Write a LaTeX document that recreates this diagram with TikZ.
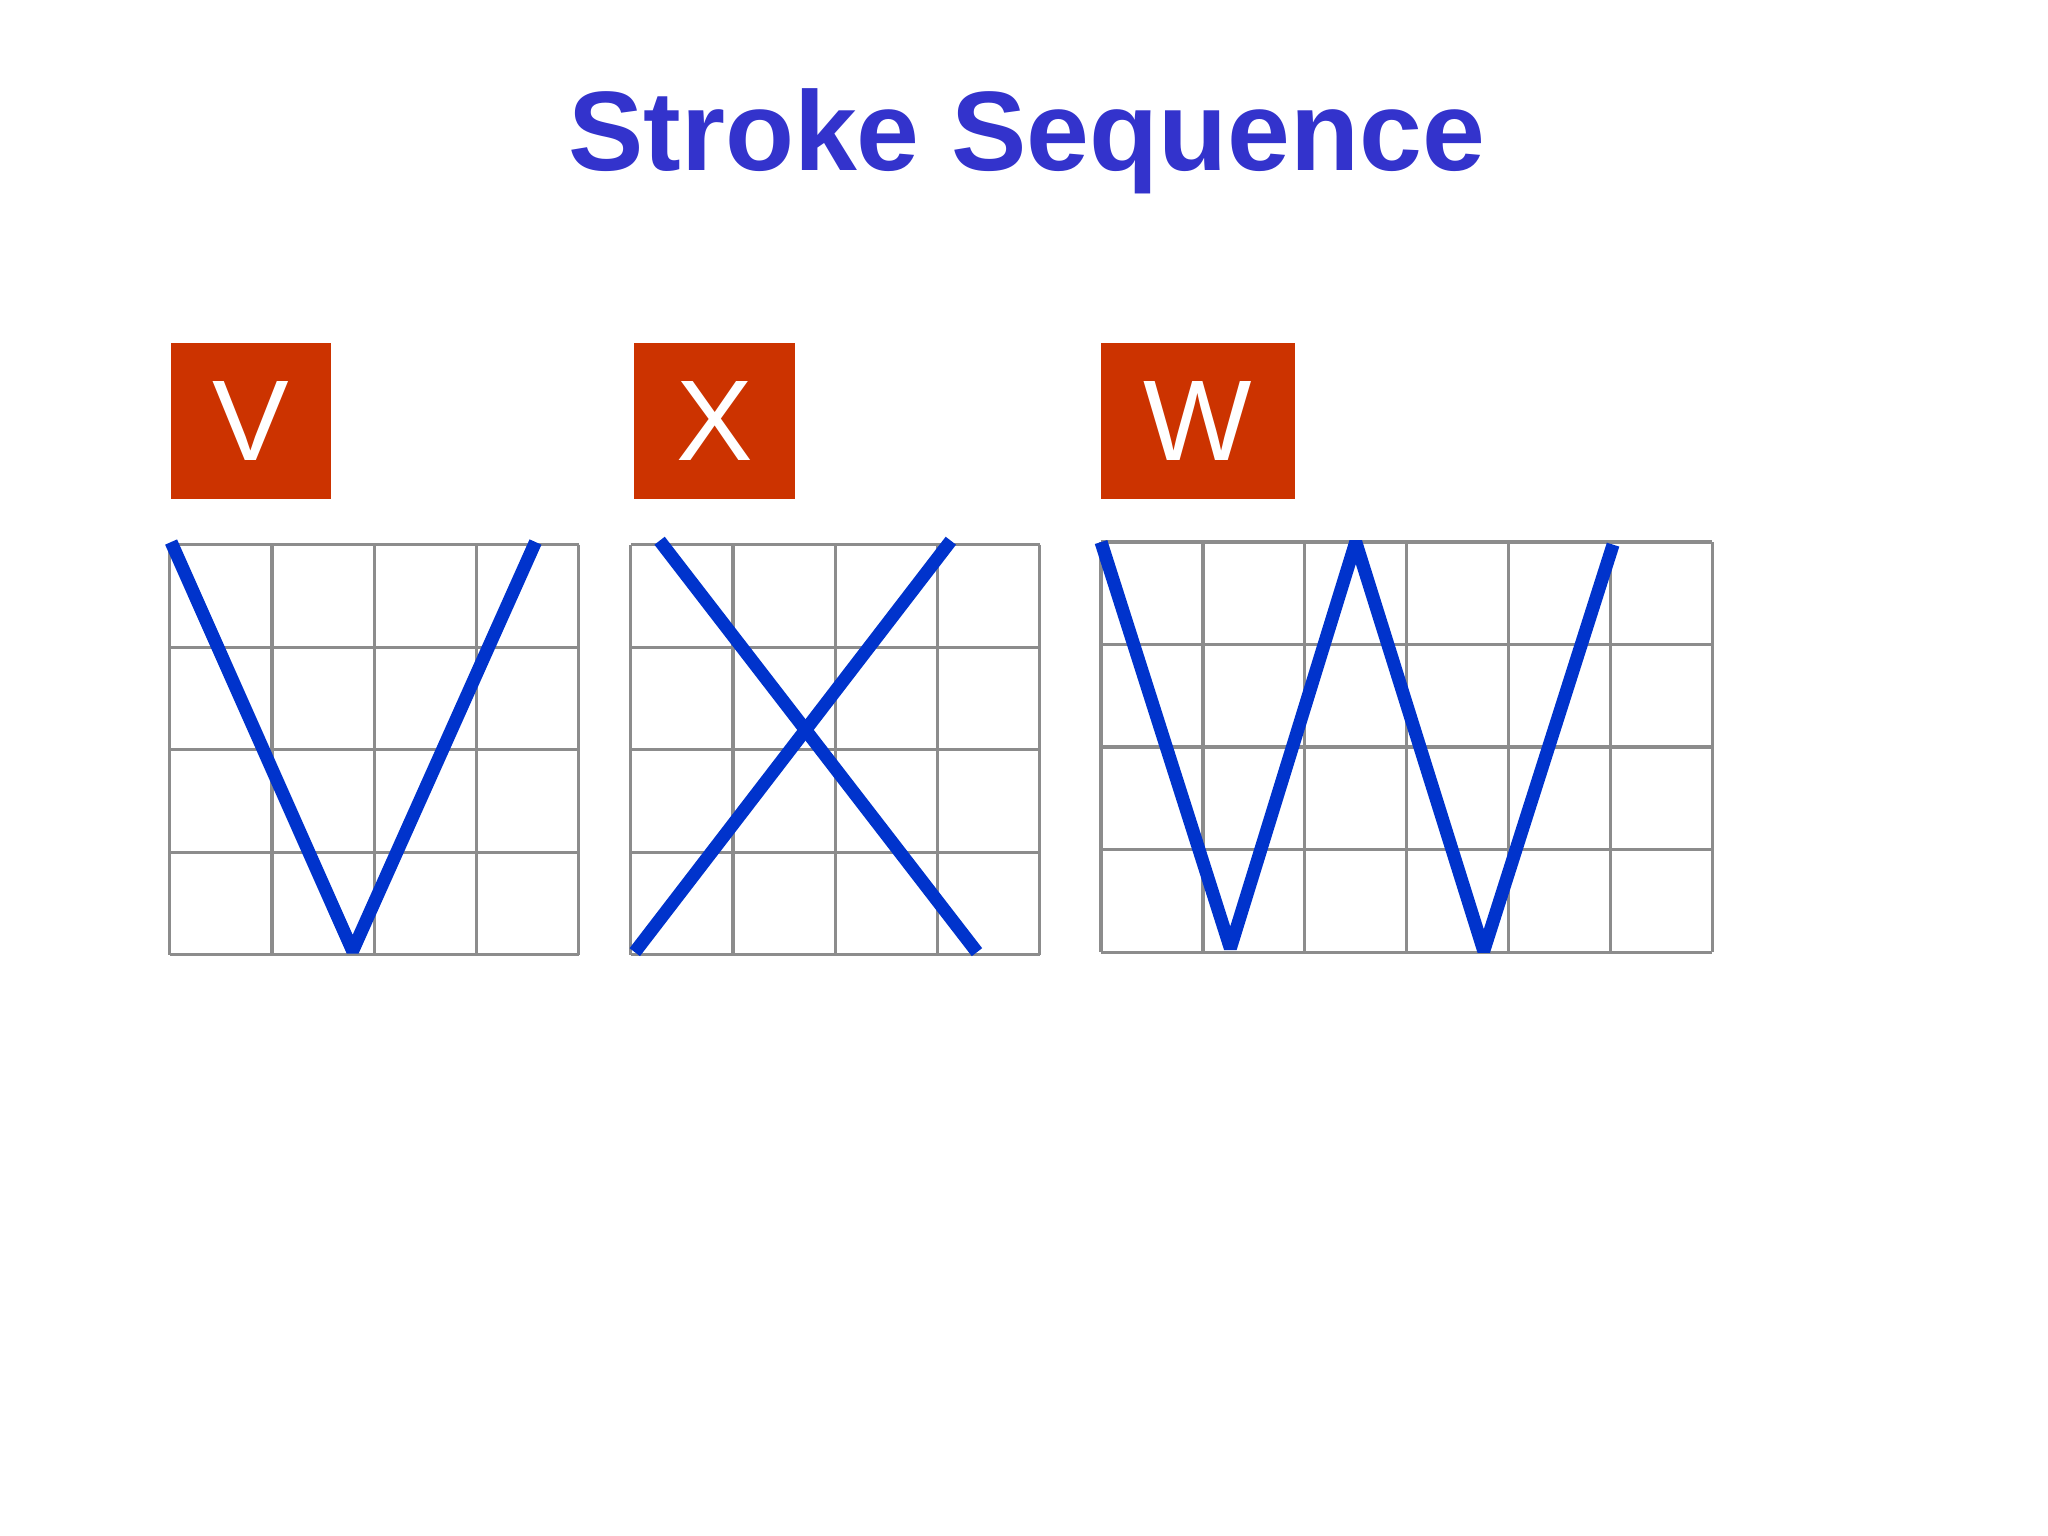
\documentclass[tikz,border=0pt]{standalone}
\usepackage{fontspec}
\setmainfont{Liberation Sans}
\definecolor{ttl}{HTML}{3333CC}
\definecolor{boxc}{HTML}{CC3300}
\definecolor{strk}{HTML}{0033CC}
\begin{document}
\begin{tikzpicture}[x=0.01cm,y=-0.01cm,
  letterbox/.style={fill=boxc,draw=none,inner sep=0,anchor=north west,text=white,font=\fontsize{25}{25}\selectfont},
  gridl/.style={draw=gray!90,line width=0.025cm},
  strokeline/.style={draw=strk,line width=0.1cm,line join=bevel}]
\useasboundingbox (0,0) rectangle (1568,1176);
\node[text=ttl,font=\bfseries\fontsize{24.6}{25}\selectfont] (title) at (786,108) {Stroke Sequence};
\node[letterbox,minimum width=1.23cm,minimum height=1.19cm] (bv) at (130,262) {V};
\node[letterbox,minimum width=1.23cm,minimum height=1.19cm] (bx) at (485,262) {X};
\node[letterbox,minimum width=1.49cm,minimum height=1.19cm] (bw) at (842,262) {W};
% grids
\foreach \x in {130,208.25,286.5,364.75,443} \draw[gridl] (\x,417) -- (\x,731);
\foreach \y in {417,495.5,574,652.5,731} \draw[gridl] (130,\y) -- (443,\y);
\foreach \x in {483,561.25,639.5,717.75,796} \draw[gridl] (\x,417) -- (\x,731);
\foreach \y in {417,495.5,574,652.5,731} \draw[gridl] (483,\y) -- (796,\y);
\foreach \x in {843,921,999,1077,1155,1233,1311} \draw[gridl] (\x,415) -- (\x,729);
\foreach \y in {415,493.5,572,650.5,729} \draw[gridl] (843,\y) -- (1311,\y);
% strokes
\coordinate (v1) at (131,415); \coordinate (v2) at (270,728); \coordinate (v3) at (410,415);
\draw[strokeline] (v1) -- (v2) -- (v3);
\coordinate (x1) at (505,414); \coordinate (x2) at (748,729);
\coordinate (x3) at (728,414); \coordinate (x4) at (486,729);
\draw[strokeline] (x1) -- (x2);
\draw[strokeline] (x3) -- (x4);
\coordinate (w1) at (843,415); \coordinate (w2) at (942,726); \coordinate (w3) at (1038,415);
\coordinate (w4) at (1136,728); \coordinate (w5) at (1235,417);
\draw[strokeline] (w1) -- (w2) -- (w3) -- (w4) -- (w5);
\end{tikzpicture}
\end{document}
